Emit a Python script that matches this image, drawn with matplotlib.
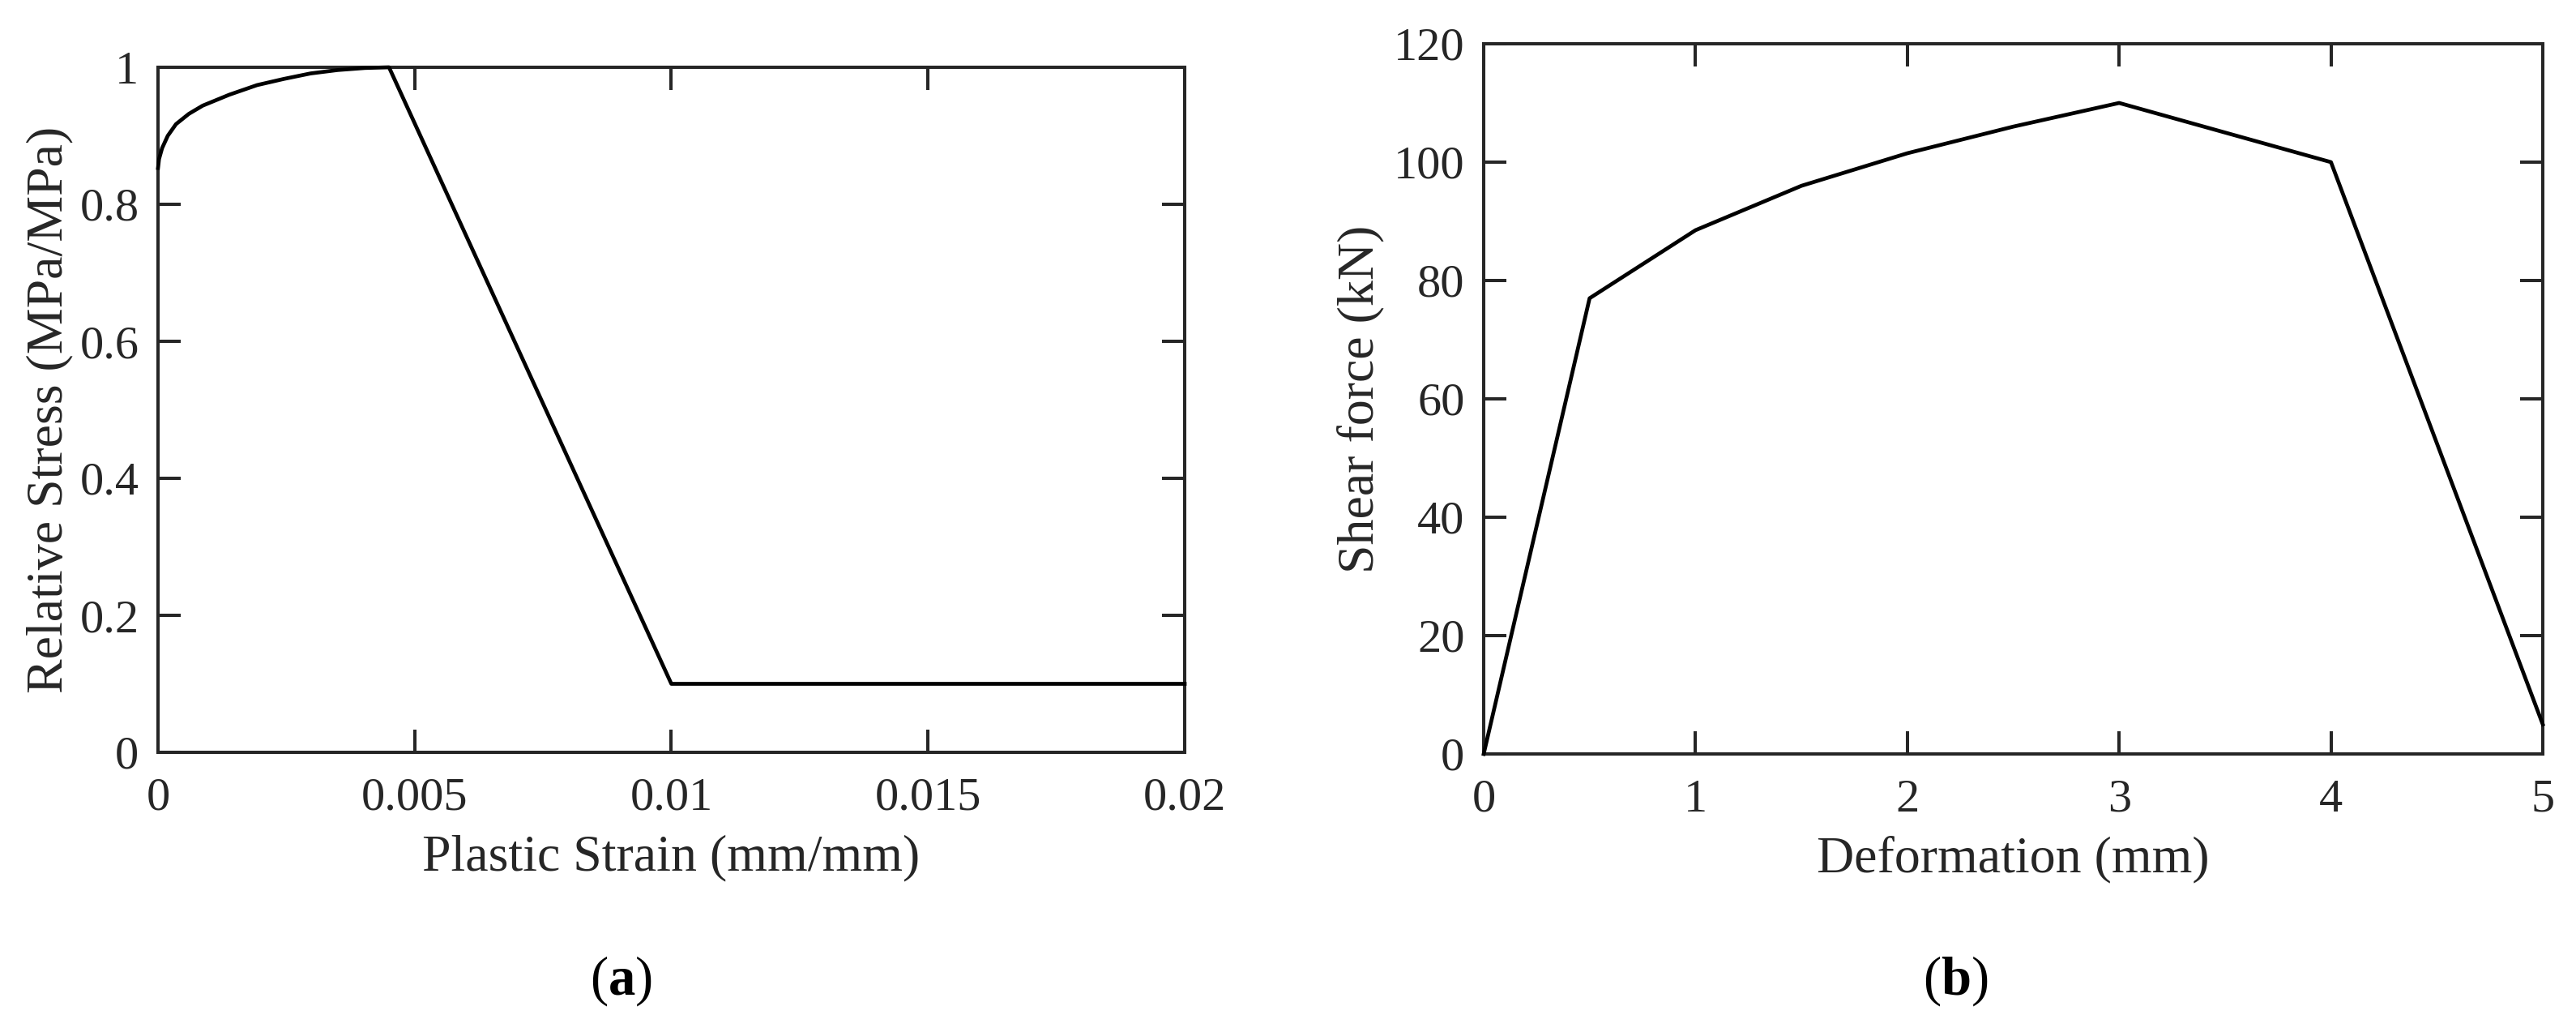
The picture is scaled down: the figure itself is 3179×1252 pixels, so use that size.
import matplotlib
matplotlib.use("Agg")
import matplotlib.pyplot as plt

# ---- data (a): relative stress vs plastic strain ----
strain = [0.0, 0.00002, 0.00008, 0.00019, 0.00035, 0.0006, 0.00087, 0.00139,
          0.00193, 0.00245, 0.00297, 0.0035, 0.00403, 0.0045, 0.01, 0.02]
rel_stress = [0.853, 0.866, 0.882, 0.900, 0.917, 0.932, 0.944, 0.960,
              0.974, 0.983, 0.991, 0.996, 0.999, 1.0, 0.1, 0.1]
a_xticks = [0, 0.005, 0.01, 0.015, 0.02]
a_xticklabels = ["0", "0.005", "0.01", "0.015", "0.02"]
a_yticks = [0, 0.2, 0.4, 0.6, 0.8, 1.0]
a_yticklabels = ["0", "0.2", "0.4", "0.6", "0.8", "1"]

# ---- data (b): shear force vs deformation ----
deformation = [0, 0.5, 1.0, 1.5, 2.0, 2.5, 3.0, 4.0, 5.0]
shear_force = [0, 77, 88.5, 96, 101.5, 106, 110, 100, 5]
b_xticks = [0, 1, 2, 3, 4, 5]
b_yticks = [0, 20, 40, 60, 80, 100, 120]

TXT = "#262626"
plt.rcParams["font.family"] = ["Liberation Serif", "DejaVu Serif"]
plt.rcParams["mathtext.fontset"] = "custom"
plt.rcParams["mathtext.rm"] = "Liberation Serif"
plt.rcParams["mathtext.bf"] = "Liberation Serif:bold"

fig = plt.figure(figsize=(31.79, 12.52), dpi=100)
W, H = 3179, 1252

def make_axes(x0, y0, x1, y1):
    return fig.add_axes([x0 / W, 1 - y1 / H, (x1 - x0) / W, (y1 - y0) / H])

axa = make_axes(195, 83, 1462, 928)
axb = make_axes(1831, 54, 3138, 930)

for ax in (axa, axb):
    for sp in ax.spines.values():
        sp.set_linewidth(2.9)
        sp.set_color(TXT)
    ax.tick_params(direction="in", length=20, width=2.9, color=TXT,
                   labelsize=42, labelcolor=TXT, top=True, right=True)
    ax.tick_params(axis="x", pad=22)
    ax.tick_params(axis="y", pad=17)

axa.plot(strain, rel_stress, color="black", lw=3.4, clip_on=False, zorder=3)
axa.set_xlim(0, 0.02)
axa.set_ylim(0, 1)
axa.set_xticks(a_xticks)
axa.set_xticklabels(a_xticklabels)
axa.set_yticks(a_yticks)
axa.set_yticklabels(a_yticklabels)
axa.set_xlabel("Plastic Strain (mm/mm)", fontsize=46, color=TXT)
axa.set_ylabel("Relative Stress (MPa/MPa)", fontsize=46, color=TXT)
axa.xaxis.set_label_coords(0.5, (928 - 1058) / 845)
axa.xaxis.label.set_va("center")
axa.yaxis.set_label_coords((61 - 195) / 1267, 0.5)
axa.yaxis.label.set_va("center")

axb.plot(deformation, shear_force, color="black", lw=3.4, clip_on=False, zorder=3)
axb.set_xlim(0, 5)
axb.set_ylim(0, 120)
axb.set_xticks(b_xticks)
axb.set_yticks(b_yticks)
axb.set_xlabel("Deformation (mm)", fontsize=46, color=TXT)
axb.set_ylabel("Shear force (kN)", fontsize=46, color=TXT)
axb.xaxis.set_label_coords(0.5, (930 - 1060) / 876)
axb.xaxis.label.set_va("center")
axb.yaxis.set_label_coords((1679 - 1831) / 1307, 0.5)
axb.yaxis.label.set_va("center")

fig.text(766 / W, 1 - 1210 / H, r"($\mathbf{a}$)", fontsize=48, ha="center", va="center", color="black")
fig.text(2413 / W, 1 - 1210 / H, r"($\mathbf{b}$)", fontsize=48, ha="center", va="center", color="black")

fig.savefig("out.png", dpi=100)
